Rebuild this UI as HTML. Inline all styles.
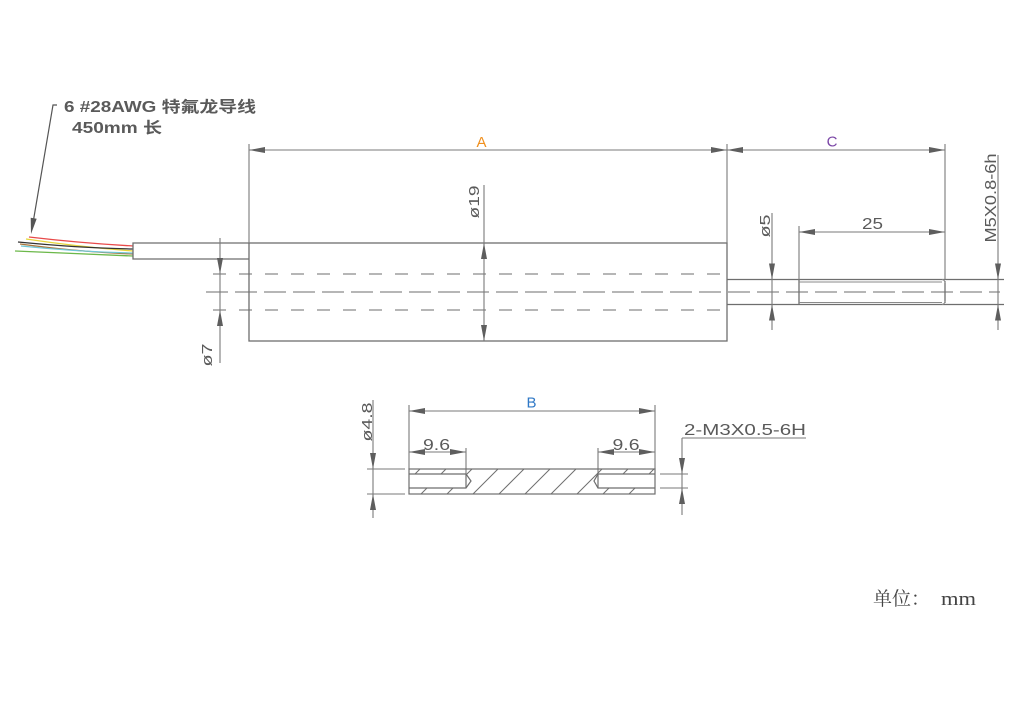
<!DOCTYPE html>
<html><head><meta charset="utf-8"><style>
html,body{margin:0;padding:0;background:#fff;}
svg{display:block;}
text{font-family:"Liberation Sans","Noto Sans CJK SC",sans-serif;}
text.serif{font-family:"Liberation Serif","Noto Serif CJK SC",serif;}
</style></head><body>
<svg width="1024" height="711" viewBox="0 0 1024 711" xmlns="http://www.w3.org/2000/svg">
<defs>
<clipPath id="hc" clip-rule="evenodd">
<path clip-rule="evenodd" d="M409,469 H655 V494 H409 Z M409,474 H466 L471,481 L466,488 H409 Z M655,474 H598 L594,481 L598,488 H655 Z"/>
</clipPath>
</defs>
<rect width="1024" height="711" fill="#fff"/>

<!-- labels top-left -->
<text x="64" y="112" font-size="15.5" fill="#5a5a5a" font-weight="bold" textLength="192" lengthAdjust="spacingAndGlyphs">6 #28AWG 特氟龙导线</text>
<text x="72" y="133" font-size="15.5" fill="#5a5a5a" font-weight="bold" textLength="90" lengthAdjust="spacingAndGlyphs">450mm 长</text>

<!-- leader -->
<g stroke="#555" stroke-width="1.2" fill="none">
<polyline points="57,105 53,105 33.5,220"/>
</g>
<polygon points="31,234 36.7,218.7 30.7,217.7" fill="#555"/>

<!-- wires -->
<g fill="none" stroke-width="1.3">
<path d="M29,237 Q80,243 133,246" stroke="#e84a4a"/>
<path d="M26,239 Q80,247 133,251" stroke="#e6d63c"/>
<path d="M18,242 Q80,248 133,249" stroke="#333"/>
<path d="M20,244 Q80,252 133,254" stroke="#a8743c"/>
<path d="M21,246 Q80,252 133,253" stroke="#70c8d8"/>
<path d="M15,251 Q80,254 133,256" stroke="#6cb84a"/>
</g>

<!-- main geometry -->
<g stroke="#6e6e6e" stroke-width="1.3" fill="none">
<rect x="249" y="243" width="478" height="98"/>
<polyline points="249,243 133,243 133,259 249,259"/>
<!-- shaft -->
<line x1="727" y1="279.5" x2="1004" y2="279.5"/>
<line x1="727" y1="304.5" x2="1004" y2="304.5"/>
<line x1="799" y1="279.5" x2="799" y2="304.5"/>
<line x1="945" y1="281" x2="945" y2="303"/>
</g>
<g stroke="#8a8a8a" stroke-width="1" fill="none">
<line x1="799" y1="282" x2="942" y2="282"/>
<line x1="799" y1="302.5" x2="942" y2="302.5"/>
<path d="M942,279.5 Q945,280 945,283 M942,304.5 Q945,304 945,301"/>
</g>

<!-- dashed lines -->
<g stroke="#6e6e6e" stroke-width="1.1" fill="none">
<line x1="213" y1="274" x2="727" y2="274" stroke-dasharray="13 13"/>
<line x1="213" y1="310" x2="727" y2="310" stroke-dasharray="13 13"/>
<line x1="206" y1="292" x2="1000" y2="292" stroke-dasharray="22 7"/>
</g>

<!-- extension & dimension lines -->
<g stroke="#7a7a7a" stroke-width="1.1" fill="none">
<line x1="249" y1="144" x2="249" y2="243"/>
<line x1="727" y1="144" x2="727" y2="243"/>
<line x1="945" y1="144" x2="945" y2="280"/>
<line x1="799" y1="226" x2="799" y2="280"/>
<line x1="249" y1="150" x2="727" y2="150"/>
<line x1="727" y1="150" x2="945" y2="150"/>
<line x1="799" y1="232" x2="945" y2="232"/>
<line x1="220" y1="238" x2="220" y2="363"/>
<line x1="484" y1="185" x2="484" y2="341"/>
<line x1="772" y1="213" x2="772" y2="330"/>
<line x1="998" y1="155" x2="998" y2="330"/>
<!-- bottom part dims -->
<line x1="409" y1="405" x2="409" y2="469"/>
<line x1="655" y1="405" x2="655" y2="469"/>
<line x1="466" y1="448" x2="466" y2="474"/>
<line x1="598" y1="448" x2="598" y2="474"/>
<line x1="409" y1="411" x2="655" y2="411"/>
<line x1="409" y1="452" x2="466" y2="452"/>
<line x1="598" y1="452" x2="655" y2="452"/>
<line x1="367" y1="469" x2="405" y2="469"/>
<line x1="367" y1="494" x2="405" y2="494"/>
<line x1="373" y1="400" x2="373" y2="518"/>
<line x1="660" y1="474" x2="688" y2="474"/>
<line x1="660" y1="488" x2="688" y2="488"/>
<line x1="682" y1="438" x2="682" y2="515"/>
<line x1="682" y1="438" x2="806" y2="438"/>
</g>

<!-- arrows -->
<g fill="#5e5e5e">
<polygon points="249,150 265,147 265,153"/>
<polygon points="727,150 711,147 711,153"/>
<polygon points="727,150 743,147 743,153"/>
<polygon points="945,150 929,147 929,153"/>
<polygon points="799,232 815,229 815,235"/>
<polygon points="945,232 929,229 929,235"/>
<polygon points="220,274 217,258 223,258"/>
<polygon points="220,310 217,326 223,326"/>
<polygon points="484,243 481,259 487,259"/>
<polygon points="484,341 481,325 487,325"/>
<polygon points="772,279.5 769,263.5 775,263.5"/>
<polygon points="772,304.5 769,320.5 775,320.5"/>
<polygon points="998,279.5 995,263.5 1001,263.5"/>
<polygon points="998,304.5 995,320.5 1001,320.5"/>
<polygon points="409,411 425,408 425,414"/>
<polygon points="655,411 639,408 639,414"/>
<polygon points="409,452 425,449 425,455"/>
<polygon points="466,452 450,449 450,455"/>
<polygon points="598,452 614,449 614,455"/>
<polygon points="655,452 639,449 639,455"/>
<polygon points="373,469 370,453 376,453"/>
<polygon points="373,494 370,510 376,510"/>
<polygon points="682,474 679,458 685,458"/>
<polygon points="682,488 679,504 685,504"/>
</g>

<!-- bottom part -->
<g clip-path="url(#hc)" stroke="#6e6e6e" stroke-width="1">
<line x1="370" y1="519" x2="430" y2="459"/>
<line x1="396" y1="519" x2="456" y2="459"/>
<line x1="422" y1="519" x2="482" y2="459"/>
<line x1="448" y1="519" x2="508" y2="459"/>
<line x1="474" y1="519" x2="534" y2="459"/>
<line x1="500" y1="519" x2="560" y2="459"/>
<line x1="526" y1="519" x2="586" y2="459"/>
<line x1="552" y1="519" x2="612" y2="459"/>
<line x1="578" y1="519" x2="638" y2="459"/>
<line x1="604" y1="519" x2="664" y2="459"/>
<line x1="630" y1="519" x2="690" y2="459"/>
<line x1="656" y1="519" x2="716" y2="459"/>
</g>
<g stroke="#6e6e6e" stroke-width="1.2" fill="none">
<rect x="409" y="469" width="246" height="25"/>
<polyline points="409,474 466,474 471,481 466,488 409,488"/>
<line x1="466" y1="474" x2="466" y2="488"/>
<polyline points="655,474 598,474 594,481 598,488 655,488"/>
<line x1="598" y1="474" x2="598" y2="488"/>
</g>

<!-- dimension text -->
<g fill="#5a5a5a" font-size="15">
<text x="481.5" y="147" text-anchor="middle" fill="#f0901e">A</text>
<text x="832" y="146.5" text-anchor="middle" fill="#7a45a6">C</text>
<text x="531.5" y="407.5" text-anchor="middle" fill="#2f78c6">B</text>
<text x="872.5" y="229" text-anchor="middle" font-size="16" textLength="21" lengthAdjust="spacingAndGlyphs">25</text>
<text x="436.5" y="450" text-anchor="middle" font-size="16" textLength="27" lengthAdjust="spacingAndGlyphs">9.6</text>
<text x="626" y="450" text-anchor="middle" font-size="16" textLength="27" lengthAdjust="spacingAndGlyphs">9.6</text>
<text x="684" y="435" font-size="16" textLength="122" lengthAdjust="spacingAndGlyphs">2-M3X0.5-6H</text>
<text transform="translate(479,202) rotate(-90)" text-anchor="middle" font-size="15" textLength="33" lengthAdjust="spacingAndGlyphs">ø19</text>
<text transform="translate(212,355) rotate(-90)" text-anchor="middle" font-size="15" textLength="23" lengthAdjust="spacingAndGlyphs">ø7</text>
<text transform="translate(770,226) rotate(-90)" text-anchor="middle" font-size="15" textLength="23" lengthAdjust="spacingAndGlyphs">ø5</text>
<text transform="translate(996,198) rotate(-90)" text-anchor="middle" font-size="16" textLength="89" lengthAdjust="spacingAndGlyphs">M5X0.8-6h</text>
<text transform="translate(372,422) rotate(-90)" text-anchor="middle" font-size="15" textLength="39" lengthAdjust="spacingAndGlyphs">ø4.8</text>
</g>

<text class="serif" x="873" y="605" font-size="19" fill="#444">单位：</text>
<text class="serif" x="941" y="605" font-size="19" fill="#444" textLength="35" lengthAdjust="spacingAndGlyphs">mm</text>
</svg>
</body></html>
